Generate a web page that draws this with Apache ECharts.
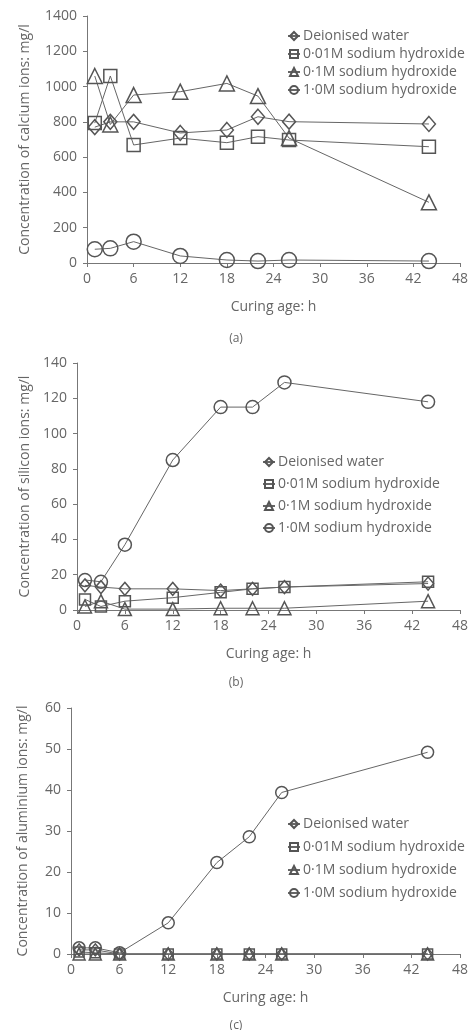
<!doctype html>
<html>
<head>
    <meta charset="utf-8">
    <title>Ion concentrations</title>
    <style>
        html, body { margin: 0; padding: 0; background: #fff; }
        #chart { width: 472px; height: 1030px; }
    </style>
</head>
<body>
    <div id="chart"></div>
    <script src="https://cdn.jsdelivr.net/npm/echarts@6/dist/echarts.min.js"></script>
    <script>
        // curing ages (h) shared by every panel
        var ages = [1, 3, 6, 12, 18, 22, 26, 44];
        var names = ['Deionised water', '0·01M sodium hydroxide', '0·1M sodium hydroxide', '1·0M sodium hydroxide'];
        var symbols = ['diamond', 'rect', 'triangle', 'circle'];

        // (a) calcium, mg/l
        var caWater = [770, 800, 800, 737, 754, 829, 801, 788];
        var caNaOH001 = [793, 1060, 669, 708, 682, 716, 697, 659];
        var caNaOH01 = [1060, 785, 952, 971, 1018, 946, 708, 344];
        var caNaOH1 = [78, 83, 121, 40, 17, 11, 17, 11];

        // (b) silicon, mg/l
        var siWater = [14, 13, 12, 12, 11, 12, 13, 15];
        var siNaOH001 = [6, 2, 5, 7, 10, 12, 13, 16];
        var siNaOH01 = [2, 5, 0.5, 0.5, 1, 1, 1, 5];
        var siNaOH1 = [17, 16, 37, 85, 115, 115, 129, 118];

        // (c) aluminium, mg/l
        var alWater = [1, 1, 0, 0, 0, 0, 0, 0];
        var alNaOH001 = [0.5, 0.3, 0, 0, 0, 0, 0, 0];
        var alNaOH01 = [0, 0, 0, 0, 0, 0, 0, 0];
        var alNaOH1 = [1.5, 1.5, 0.3, 7.6, 22.3, 28.6, 39.4, 49.2];

        var panels = [
            { vals: [caWater, caNaOH001, caNaOH01, caNaOH1], max: 1400, step: 200,
              yName: 'Concentration of calcium ions: mg/l', label: '(a)',
              grid: { left: 87, right: 12, top: 16, bottom: 767 }, nameGap: 55,
              legend: { left: 282, top: 24, gap: 4 }, titleTop: 328, size: 15 },
            { vals: [siWater, siNaOH001, siNaOH01, siNaOH1], max: 140, step: 20,
              yName: 'Concentration of silicon ions: mg/l', label: '(b)',
              grid: { left: 77, right: 12, top: 363, bottom: 420 }, nameGap: 43,
              legend: { left: 257, top: 450, gap: 8 }, titleTop: 672, size: 13 },
            { vals: [alWater, alNaOH001, alNaOH01, alNaOH1], max: 60, step: 10,
              yName: 'Concentration of aluminium ions: mg/l', label: '(c)',
              grid: { left: 71, right: 12, top: 708, bottom: 76 }, nameGap: 41,
              legend: { left: 282, top: 812, gap: 9 }, titleTop: 1015, size: 12 }
        ];

        var grey = '#666';
        var font = "'Open Sans', 'Noto Sans', sans-serif";
        var option = {
            animation: false,
            backgroundColor: '#fff',
            textStyle: { fontFamily: font },
            grid: [], xAxis: [], yAxis: [], legend: [], title: [], series: []
        };

        panels.forEach(function (p, i) {
            option.grid.push(p.grid);
            option.title.push({
                text: p.label, left: 'center', top: p.titleTop,
                textStyle: { fontSize: 12, fontWeight: 'normal', color: grey, fontFamily: font }
            });
            option.xAxis.push({
                type: 'value', gridIndex: i, min: 0, max: 48, interval: 6,
                name: 'Curing age: h', nameLocation: 'middle', nameGap: 37,
                nameTextStyle: { color: grey, fontSize: 14 },
                axisLine: { lineStyle: { color: '#777' } },
                axisTick: { lineStyle: { color: '#777' }, length: 4 },
                axisLabel: { color: grey, fontSize: 14, margin: 9 },
                splitLine: { show: false }
            });
            option.yAxis.push({
                type: 'value', gridIndex: i, min: 0, max: p.max, interval: p.step,
                name: p.yName, nameLocation: 'middle', nameGap: p.nameGap,
                nameTextStyle: { color: grey, fontSize: 14 },
                axisLine: { show: true, lineStyle: { color: '#777' } },
                axisTick: { show: true, lineStyle: { color: '#777' }, length: 4 },
                axisLabel: { color: grey, fontSize: 14, margin: 10,
                    formatter: function (v) { return String(v); } },
                splitLine: { show: false }
            });
            option.legend.push({
                orient: 'vertical', left: p.legend.left, top: p.legend.top,
                itemGap: p.legend.gap, itemWidth: 12, itemHeight: 10,
                data: names,
                textStyle: { color: grey, fontSize: 14, padding: [0, 0, 0, -2] }
            });
            p.vals.forEach(function (v, k) {
                option.series.push({
                    name: names[k], type: 'line',
                    xAxisIndex: i, yAxisIndex: i,
                    data: ages.map(function (a, j) { return [a, v[j]]; }),
                    symbol: symbols[k],
                    symbolSize: k === 0 ? [p.size - 2, p.size] : (k === 1 ? p.size - 2 : p.size),
                    showAllSymbol: true,
                    lineStyle: { color: '#666', width: 1 },
                    itemStyle: { color: 'rgba(255,255,255,0)', borderColor: '#555', borderWidth: 1.5 },
                    emphasis: { disabled: true }
                });
            });
        });

        var myChart = echarts.init(document.getElementById('chart'));
        myChart.setOption(option);
    </script>
</body>
</html>
